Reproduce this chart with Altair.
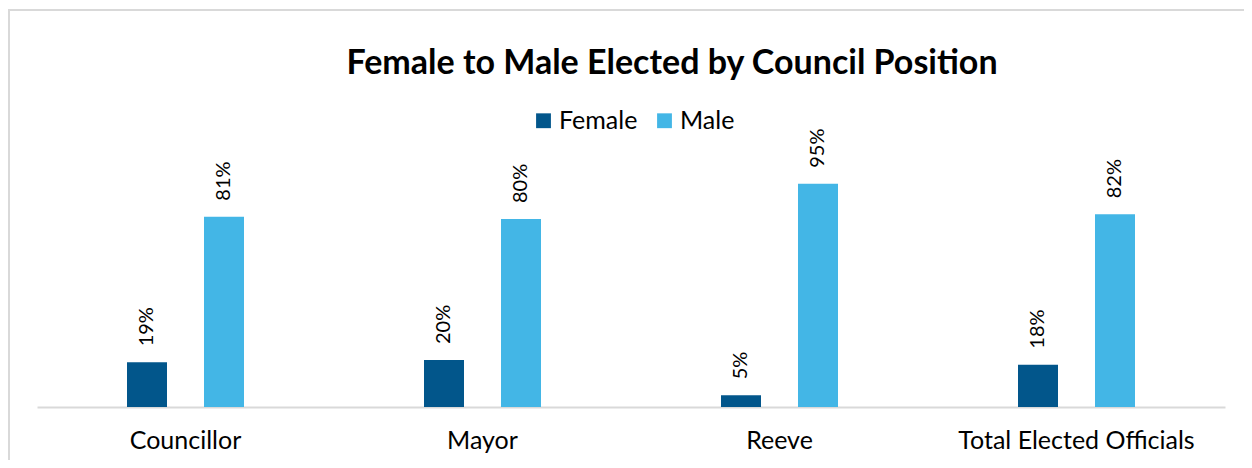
import altair as alt
import pandas as pd

positions = ["Councillor", "Mayor", "Reeve", "Total Elected Officials"]
female = [19, 20, 5, 18]
male = [81, 80, 95, 82]
genders = ["Female", "Male"]
colors = ["#02568B", "#43B6E6"]

rows = []
for p, f, m in zip(positions, female, male):
    rows.append({"Position": p, "Gender": "Female", "Value": f, "Label": f"{f}%"})
    rows.append({"Position": p, "Gender": "Male", "Value": m, "Label": f"{m}%"})
df = pd.DataFrame(rows)

FONT = "Lato"

x_enc = alt.X("Position:N", sort=positions, title=None,
              scale=alt.Scale(paddingInner=0, paddingOuter=0),
              axis=alt.Axis(labelAngle=0, ticks=False, domainColor="#d9d9d9",
                            domainWidth=2, labelFontSize=25, labelColor="#000000",
                            labelFont=FONT, labelPadding=21, labelLimit=0, grid=False))
xo_enc = alt.XOffset("Gender:N", sort=genders,
                     scale=alt.Scale(range=[90, 207], paddingInner=0.4805, paddingOuter=0))
y_enc = alt.Y("Value:Q", scale=alt.Scale(domain=[0, 100]), axis=None)

one = pd.DataFrame({"a": [0]})
frame_left = alt.Chart(one).mark_rule(color="#d9d9d9", strokeWidth=2).encode(
    x=alt.value(-28), y=alt.value(-163), y2=alt.value(320))
frame_top = alt.Chart(one).mark_rule(color="#d9d9d9", strokeWidth=2).encode(
    x=alt.value(-29), x2=alt.value(1300), y=alt.value(-162))

bars = alt.Chart(df).mark_bar().encode(
    x=x_enc, xOffset=xo_enc, y=y_enc,
    color=alt.Color("Gender:N", sort=genders,
                    scale=alt.Scale(domain=genders, range=colors),
                    legend=alt.Legend(title=None, orient="none", direction="horizontal",
                                      legendX=494, legendY=-64, symbolType="square",
                                      symbolSize=220, symbolStrokeWidth=0,
                                      labelFontSize=25, labelFont=FONT,
                                      labelColor="#000000", labelOffset=3,
                                      columnPadding=14, padding=0)),
)

labels = alt.Chart(df).mark_text(
    angle=270, align="left", baseline="middle", dx=16, fontSize=20, font=FONT,
    color="#000000"
).encode(x=x_enc, xOffset=xo_enc, y=y_enc, text="Label:N")

chart = alt.layer(frame_left, frame_top, bars, labels).properties(
    width=1188, height=235,
    title=alt.TitleParams("Female to Male Elected by Council Position",
                          font=FONT, fontSize=34, fontWeight="bold", color="#000000",
                          anchor="middle", dx=41, offset=-100, baseline="alphabetic"),
    autosize=alt.AutoSizeParams(type="none"),
    padding={"left": 29, "top": 164, "right": 19, "bottom": 53},
).configure_view(stroke=None)

chart.save("out.html", embed_options={"renderer": "svg", "actions": False})
